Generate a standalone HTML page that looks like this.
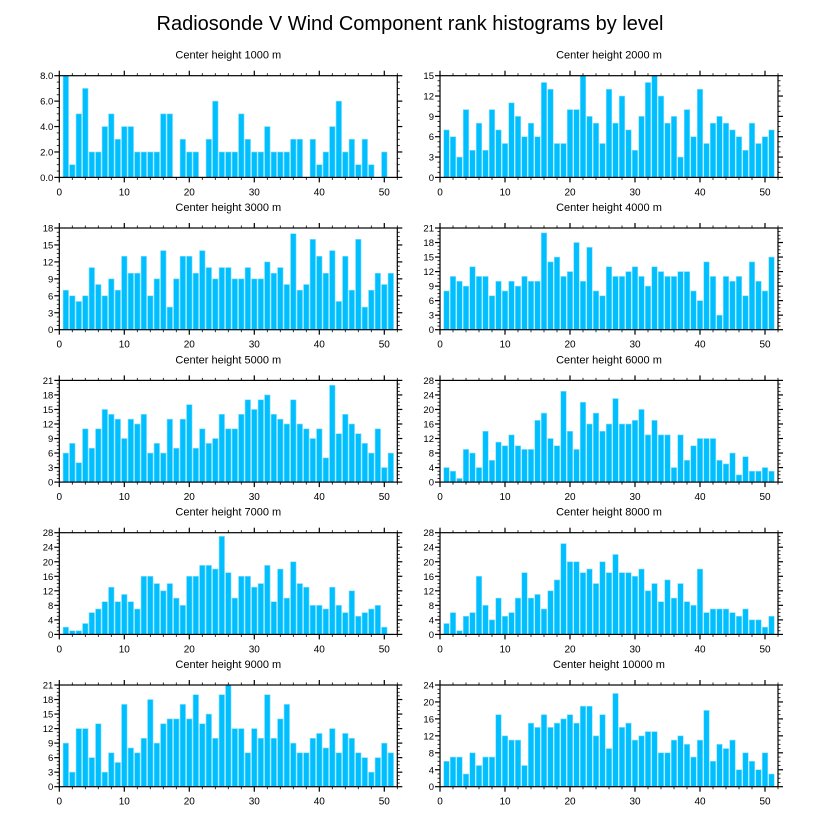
<!DOCTYPE html>
<html><head><meta charset="utf-8"><style>
body{margin:0;background:#fff;}
svg{display:block;font-family:"Liberation Sans",sans-serif;}
</style></head><body>
<svg id="chart" width="818" height="824" viewBox="0 0 818 824" xmlns="http://www.w3.org/2000/svg">
<rect width="818" height="824" fill="#fff"/>
<text x="410" y="30" text-anchor="middle" font-size="20">Radiosonde V Wind Component rank histograms by level</text>
</svg>
<script>
const levels = ["1000","2000","3000","4000","5000","6000","7000","8000","9000","10000"];
const yMaxes = [8,15,18,21,21,28,28,28,21,24];
const yStepsArr = [2,3,3,3,3,4,4,4,3,4];
const ranks = [1,2,3,4,5,6,7,8,9,10,11,12,13,14,15,16,17,18,19,20,21,22,23,24,25,26,27,28,29,30,31,32,33,34,35,36,37,38,39,40,41,42,43,44,45,46,47,48,49,50,51];
const xTicks = [0,10,20,30,40,50];
const counts1000 = [8,1,5,7,2,2,4,5,3,4,4,2,2,2,2,5,5,0,3,2,2,0,3,6,2,2,2,5,3,2,2,4,2,2,2,3,3,0,3,1,2,4,6,2,3,1,3,1,0,2,0];
const counts2000 = [7,6,3,10,4,8,4,10,7,5,11,9,6,8,6,14,13,5,5,10,10,15,9,8,5,13,8,12,7,4,9,14,15,12,8,9,3,10,6,13,5,8,9,8,7,6,4,8,5,6,7];
const counts3000 = [7,6,5,6,11,8,6,9,7,13,10,10,13,6,9,14,4,9,13,13,10,14,11,9,11,11,9,9,11,9,9,12,10,11,8,17,7,8,16,13,10,14,5,13,7,16,4,7,10,8,10];
const counts4000 = [8,11,10,9,13,11,11,7,10,8,10,9,11,10,10,20,14,15,11,12,18,10,17,8,7,13,11,11,12,13,11,9,13,12,11,11,12,12,8,6,14,11,3,11,10,11,7,14,10,8,15];
const counts5000 = [6,8,4,11,7,11,15,14,13,9,13,12,14,6,8,6,13,7,13,16,7,11,8,9,14,11,11,14,17,15,17,18,14,13,12,17,12,11,9,11,5,20,10,14,12,10,8,6,11,3,6];
const counts6000 = [4,3,1,9,8,4,14,6,11,10,13,10,9,9,17,19,12,10,25,14,9,22,16,19,14,16,23,16,16,17,20,13,17,13,13,4,13,6,10,12,12,12,6,5,8,2,7,3,3,4,3];
const counts7000 = [2,1,1,3,6,7,9,13,9,11,9,7,16,16,14,12,14,10,8,16,16,19,19,18,27,17,10,16,16,13,14,19,9,18,10,20,14,13,8,8,7,13,8,6,12,5,6,7,8,2,0];
const counts8000 = [3,6,1,5,6,16,8,4,10,5,6,10,17,10,11,7,12,15,25,20,20,17,18,14,20,17,22,17,17,16,18,12,14,9,15,10,14,9,8,18,6,7,7,7,6,5,7,4,4,2,5];
const counts9000 = [9,3,12,12,6,13,3,7,5,17,8,7,10,18,9,13,14,14,17,14,19,13,15,10,19,21,12,12,7,12,10,19,10,14,17,9,7,7,10,11,8,12,7,11,10,7,6,3,6,9,7];
const counts10000 = [6,7,7,3,8,5,7,7,17,12,11,11,5,15,14,17,14,15,16,17,15,19,19,12,17,9,22,14,15,11,12,13,13,8,8,11,12,10,7,11,18,6,10,9,11,4,8,6,4,8,3];
const allCounts = [counts1000,counts2000,counts3000,counts4000,counts5000,counts6000,counts7000,counts8000,counts9000,counts10000];

const svg = document.getElementById('chart');
const NS = 'http://www.w3.org/2000/svg';
function mk(tag, attrs, parent){
  const e = document.createElementNS(NS, tag);
  for (const k in attrs) e.setAttribute(k, attrs[k]);
  (parent||svg).appendChild(e);
  return e;
}
const colX = [59.3, 440];
const pw = 338, ph = 101.7;
const rowY = [75.7, 228, 380.4, 532.7, 685];
const xMax = 52;

levels.forEach((lvl, i) => {
  const L = colX[i % 2], T = rowY[Math.floor(i / 2)];
  const ymax = yMaxes[i], ystep = yStepsArr[i];
  const sx = v => L + v / xMax * pw;
  const sy = v => T + ph - v / ymax * ph;
  const g = mk('g', {});
  
  
  const t = mk('text', {x: L + pw / 2, y: T - 17, 'text-anchor': 'middle', 'font-size': 11}, g);
  t.textContent = 'Center height ' + lvl + ' m';
  
  
  const data = allCounts[i];
  ranks.forEach((r, j) => {
    const v = data[j];
    if (v <= 0) return;
    const bw = 0.85;
    const b = mk('rect', {x: sx(r - bw / 2), y: sy(v), width: sx(bw) - sx(0), height: sy(0) - sy(v), fill: '#00bfff', stroke: '#8fdfff', 'stroke-width': 0.6}, g);
    
    
  });
  // frame
  const f = mk('rect', {x: L, y: T, width: pw, height: ph, fill: 'none', stroke: '#000', 'stroke-width': 1.2}, g);
  
  
  // x ticks
  for (let v = 0; v <= xMax; v += 2) {
    const major = v % 10 === 0;
    const len = major ? 5 : 2.5;
    const x = sx(v);
    mk('line', {x1: x, x2: x, y1: T + ph, y2: T + ph + len, stroke: '#000', 'stroke-width': major ? 1.2 : 0.8}, g);
    mk('line', {x1: x, x2: x, y1: T, y2: T - len, stroke: '#000', 'stroke-width': major ? 1.2 : 0.8}, g);
  }
  xTicks.forEach(v => {
    const tx = mk('text', {x: sx(v), y: T + ph + 18, 'text-anchor': 'middle', 'font-size': 10}, g);
    tx.textContent = v;
    
    
  });
  // y ticks
  const minor = ystep / 4;
  for (let k = 0; k * minor <= ymax + 1e-9; k++) {
    const v = k * minor;
    const major = k % 4 === 0;
    const len = major ? 5 : 2.5;
    const y = sy(v);
    mk('line', {x1: L, x2: L - len, y1: y, y2: y, stroke: '#000', 'stroke-width': major ? 1.2 : 0.8}, g);
    mk('line', {x1: L + pw, x2: L + pw + len, y1: y, y2: y, stroke: '#000', 'stroke-width': major ? 1.2 : 0.8}, g);
  }
  for (let v = 0; v <= ymax + 1e-9; v += ystep) {
    const ty = mk('text', {x: L - 6, y: sy(v) + 3.5, 'text-anchor': 'end', 'font-size': 9.5}, g);
    ty.textContent = i === 0 ? v.toFixed(1) : v;
    
    
  }
});
</script>
</body></html>
